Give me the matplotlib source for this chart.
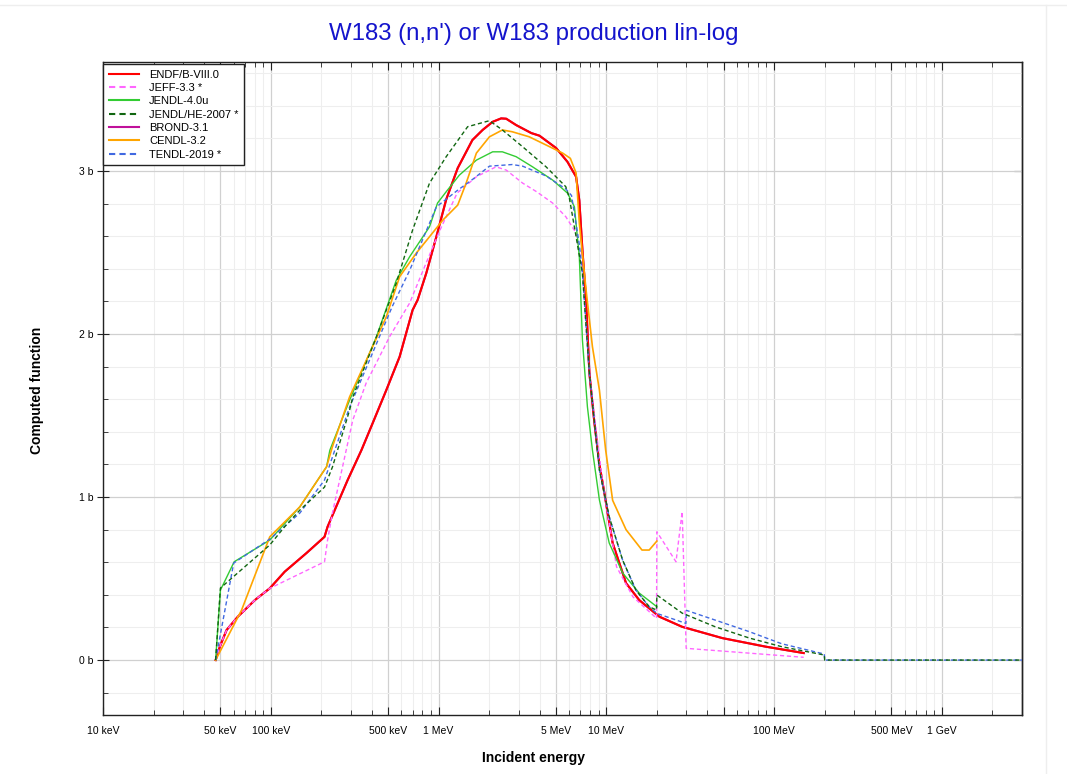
import matplotlib
matplotlib.use("Agg")
import matplotlib.pyplot as plt
from matplotlib.ticker import FixedLocator, NullFormatter, FuncFormatter
from matplotlib.lines import Line2D

plt.rcParams['font.family'] = ['Liberation Sans', 'DejaVu Sans']

# ---------------- data (energy in MeV, cross section in barns) ----------------
endf_e = [0.0469, 0.0497, 0.0545, 0.0636, 0.0804, 0.0986, 0.121, 0.163, 0.209, 0.218,
          0.287, 0.347, 0.405, 0.488, 0.586, 0.700, 0.75, 0.845, 0.97, 1.11, 1.30, 1.59,
          1.83, 2.10, 2.36, 2.53, 2.90, 3.57, 3.99, 5.02, 5.86, 6.6, 6.9, 7.2, 7.57, 7.92,
          8.49, 9.09, 9.73, 10.9, 13.1, 15.7, 20.7, 28.3, 49.0, 89.3, 150.0]
endf_v = [0.0, 0.082, 0.184, 0.266, 0.368, 0.44, 0.542, 0.656, 0.756, 0.818,
          1.104, 1.288, 1.454, 1.656, 1.861, 2.147, 2.209, 2.374, 2.597, 2.825, 3.018, 3.19,
          3.252, 3.302, 3.323, 3.321, 3.282, 3.233, 3.217, 3.141, 3.057, 2.965, 2.82, 2.515, 2.209, 1.761,
          1.454, 1.2, 1.025, 0.718, 0.472, 0.368, 0.266, 0.204, 0.135, 0.082, 0.043]

brond_e = endf_e
brond_v = endf_v

jeff_e = [0.0469, 0.0497, 0.0545, 0.0636, 0.0804, 0.0986, 0.209, 0.218, 0.233, 0.308,
          0.370, 0.51, 0.672, 0.843, 1.02, 1.29, 1.68, 2.20, 2.53, 3.17, 3.84, 4.78, 5.73,
          6.6, 7.2, 7.92, 9.09, 9.5, 11.5, 14.4, 19.9, 20.0, 26.0, 28.3, 29.9, 150.0]
jeff_v = [0.0, 0.082, 0.184, 0.266, 0.368, 0.44, 0.603, 0.736, 0.902, 1.472,
          1.699, 1.983, 2.19, 2.436, 2.638, 2.865, 2.965, 3.026, 3.006, 2.926, 2.873, 2.804, 2.72,
          2.62, 2.374, 1.761, 1.247, 1.086, 0.572, 0.388, 0.256, 0.787, 0.603, 0.91, 0.072, 0.017]

jendl_e = [0.0469, 0.0501, 0.0605, 0.0986, 0.149, 0.215, 0.225, 0.295, 0.426, 0.560, 0.672,
           0.883, 0.986, 1.11, 1.33, 1.68, 2.10, 2.40, 2.90, 3.63, 4.78, 5.86, 6.45, 6.9, 7.2,
           7.71, 8.26, 9.09, 10.4, 12.5, 15.7, 20.0]
jendl_v = [0.0, 0.429, 0.603, 0.736, 0.940, 1.186, 1.288, 1.595, 1.983, 2.331, 2.474,
           2.658, 2.804, 2.873, 2.975, 3.067, 3.118, 3.118, 3.088, 3.026, 2.945, 2.865, 2.781, 2.474, 1.963,
           1.554, 1.288, 0.982, 0.718, 0.534, 0.411, 0.327]

jendlhe_e = [0.0469, 0.0501, 0.0986, 0.121, 0.149, 0.209, 0.233, 0.295, 0.308, 0.426, 0.560,
             0.700, 0.883, 1.11, 1.49, 2.01, 2.40, 3.17, 4.37, 5.73, 6.0, 7.2, 7.92, 9.09,
             10.4, 12.5, 15.0, 18.0, 19.9, 20.0, 28.3, 44.6, 71.2, 111.0, 199.0, 200.0, 3000.0]
jendlhe_v = [0.0, 0.442, 0.706, 0.818, 0.920, 1.061, 1.184, 1.534, 1.613, 1.983, 2.313,
             2.638, 2.926, 3.088, 3.272, 3.309, 3.252, 3.149, 3.026, 2.904, 2.842, 2.374, 1.761, 1.166,
             0.879, 0.613, 0.429, 0.327, 0.307, 0.399, 0.288, 0.204, 0.135, 0.082, 0.031, 0.0, 0.0]

cendl_e = [0.0469, 0.067, 0.0986, 0.149, 0.215, 0.233, 0.295, 0.388, 0.488, 0.586, 0.737,
           0.883, 1.06, 1.30, 1.46, 1.68, 2.01, 2.40, 2.75, 3.47, 4.37, 5.49, 6.1, 6.6, 6.9,
           7.57, 8.26, 9.09, 9.9, 10.9, 13.1, 16.3, 18.0, 20.0]
cendl_v = [0.0, 0.307, 0.756, 0.94, 1.186, 1.309, 1.615, 1.883, 2.106, 2.352, 2.497,
           2.597, 2.699, 2.791, 2.926, 3.11, 3.21, 3.252, 3.241, 3.21, 3.16, 3.11, 3.078, 2.988, 2.681,
           2.27, 1.922, 1.656, 1.29, 0.98, 0.80, 0.675, 0.675, 0.73]

tendl_e = [0.0469, 0.0601, 0.0986, 0.149, 0.209, 0.295, 0.53, 0.672, 0.97, 1.29, 1.60,
           2.01, 2.75, 3.17, 4.37, 5.73, 6.2, 6.9, 7.2, 7.92, 9.09, 10.4, 12.5, 15.0, 18.0,
           20.0, 29.8, 30.0, 44.6, 71.2, 111.0, 199.0, 200.0, 3000.0]
tendl_v = [0.0, 0.595, 0.742, 0.902, 1.104, 1.552, 2.17, 2.39, 2.78, 2.88, 2.95,
           3.03, 3.04, 3.03, 2.97, 2.89, 2.85, 2.55, 2.374, 1.761, 1.166,
           0.879, 0.613, 0.429, 0.327, 0.286, 0.225, 0.305, 0.245, 0.174, 0.10, 0.037, 0.0, 0.0]

series = [
    ("ENDF/B-VIII.0", endf_e, endf_v, "#ff0000", "-", 1.5),
    ("JEFF-3.3 *", jeff_e, jeff_v, "#ff66ff", "--", 1.0),
    ("JENDL-4.0u", jendl_e, jendl_v, "#33cc33", "-", 1.0),
    ("JENDL/HE-2007 *", jendlhe_e, jendlhe_v, "#116611", "--", 1.0),
    ("BROND-3.1", brond_e, brond_v, "#c0109a", "-", 1.5),
    ("CENDL-3.2", cendl_e, cendl_v, "#ffa500", "-", 1.2),
    ("TENDL-2019 *", tendl_e, tendl_v, "#4169e1", "--", 1.0),
]
draw_order = [4, 0, 1, 2, 5, 6, 3]

major_ticks = [0.01, 0.05, 0.1, 0.5, 1, 5, 10, 50, 100, 500, 1000]
major_labels = {0.01: "10 keV", 0.05: "50 keV", 0.1: "100 keV", 0.5: "500 keV", 1: "1 MeV",
                5: "5 MeV", 10: "10 MeV", 100: "100 MeV", 500: "500 MeV", 1000: "1 GeV"}

# ---------------- figure ----------------
fig = plt.figure(figsize=(10.67, 7.74), dpi=100)
ax = fig.add_axes([103/1067, 1-715/774, (1022-103)/1067, (715-62)/774])

handles = {}
for i in draw_order:
    name, e, v, c, ls, lw = series[i]
    if ls == "--":
        ln, = ax.plot(e, v, color=c, ls=(0, (3, 2)), lw=lw, zorder=3)
    else:
        ln, = ax.plot(e, v, color=c, ls=ls, lw=lw, zorder=3)
    handles[i] = ln

ax.set_xscale("log")
ax.set_xlim(0.01, 3000)
ax.set_ylim(-0.337, 3.669)

minor = []
for d in [0.01, 0.1, 1, 10, 100, 1000]:
    for m in [2, 3, 4, 6, 7, 8, 9]:
        if d*m < 3000:
            minor.append(d*m)
ax.xaxis.set_major_locator(FixedLocator(major_ticks))
ax.xaxis.set_minor_locator(FixedLocator(minor))
ax.xaxis.set_major_formatter(FuncFormatter(lambda x, p: major_labels.get(round(x, 6) if x < 1 else round(x), "")))
ax.xaxis.set_minor_formatter(NullFormatter())

ymajor = [0, 1, 2, 3]
yminor = [v/5 for v in range(-1, 19) if v % 5 != 0]
ax.yaxis.set_major_locator(FixedLocator(ymajor))
ax.yaxis.set_minor_locator(FixedLocator(yminor))
ax.yaxis.set_major_formatter(FuncFormatter(lambda y, p: f"{int(round(y))} b"))

ax.grid(which="major", color="#d0d0d0", lw=0.9, zorder=0)
ax.grid(which="minor", color="#eeeeee", lw=0.8, zorder=0)
ax.set_axisbelow(True)

ax.tick_params(axis="x", which="major", direction="in", length=6, width=0.8, top=True, bottom=True,
               labelsize=7.5, pad=8, color="#222222")
ax.tick_params(axis="x", which="minor", direction="in", length=3.5, width=0.6, top=True, bottom=True,
               color="#222222")
ax.tick_params(axis="y", which="major", direction="inout", length=8, width=0.8, left=True, right=False,
               labelsize=7.5, pad=3, color="#222222")
ax.tick_params(axis="y", which="minor", direction="in", length=3.5, width=0.6, left=True, right=False,
               color="#222222")

sec = ax.secondary_yaxis("right")
sec.yaxis.set_major_locator(FixedLocator(ymajor))
sec.yaxis.set_minor_locator(FixedLocator(yminor))
sec.tick_params(axis="y", which="major", direction="in", length=6, width=0.8, labelright=False,
                color="#222222")
sec.tick_params(axis="y", which="minor", direction="in", length=3.5, width=0.6, labelright=False,
                color="#222222")
sec.spines["right"].set_linewidth(1.0)
sec.spines["right"].set_color("#222222")

for s in ax.spines.values():
    s.set_linewidth(1.0)
    s.set_color("#222222")

leg = ax.legend([handles[i] for i in range(7)], [s[0] for s in series], loc="upper left",
                bbox_to_anchor=(0.0005, 0.997), borderaxespad=0.0,
                fontsize=8, frameon=True, fancybox=False, framealpha=1, edgecolor="#222222",
                labelspacing=0.3, handlelength=2.7, handletextpad=0.9, borderpad=0.5)
leg.get_frame().set_linewidth(1.0)
for h in leg.get_lines():
    h.set_linewidth(1.5)

fig.text(0.5, 1-34/774, "W183 (n,n') or W183 production lin-log", ha="center", va="center",
         fontsize=17.3, color="#1414cc")
fig.text(533/1067, 1-758/774, "Incident energy", ha="center", va="center", fontsize=10,
         fontweight="bold")
fig.text(37/1067, 1-390/774, "Computed function", ha="center", va="center", rotation=90,
         fontsize=10, fontweight="bold")

# faint outer frame
fig.add_artist(Line2D([0, 1], [1-5/774, 1-5/774], transform=fig.transFigure, color="#eeeeee", lw=1))
fig.add_artist(Line2D([1046/1067, 1046/1067], [0, 1-5/774], transform=fig.transFigure, color="#eeeeee", lw=1))

fig.savefig("out.png", dpi=100)
